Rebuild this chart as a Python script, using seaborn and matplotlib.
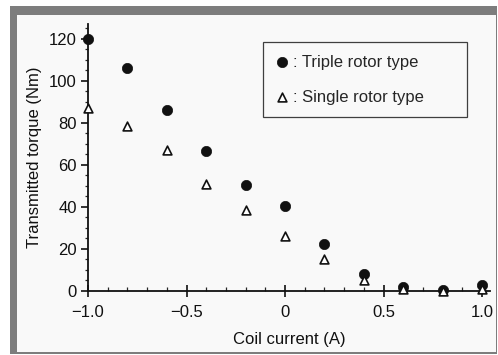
import matplotlib
matplotlib.use('Agg')
import matplotlib.pyplot as plt
import matplotlib.patches as mpatches
from matplotlib.ticker import MultipleLocator
import pandas as pd
import seaborn as sns

# Data ------------------------------------------------------------------------
coil_current = [-1.0, -0.8, -0.6, -0.4, -0.2, 0.0, 0.2, 0.4, 0.6, 0.8, 1.0]
triple_torque = [120, 106, 86, 66.5, 50.5, 40.5, 22.5, 8.3, 2.0, 0.5, 2.7]
single_torque = [87, 78.5, 67, 51, 38.5, 26, 15, 5.3, 0.8, 0.2, 1.0]

triple_label = ': Triple rotor type'
single_label = ': Single rotor type'

df = pd.DataFrame({'current': coil_current,
                   'triple': triple_torque,
                   'single': single_torque})

sns.set_style('ticks')
plt.rcParams['font.family'] = ['Liberation Sans', 'DejaVu Sans']

ink = '#111111'

fig = plt.figure(figsize=(4.98, 3.55), dpi=100)
fig.patch.set_facecolor('white')

W, H = 498.0, 355.0
# gray scan frame (behind the axes)
fig.add_artist(mpatches.Rectangle((10 / W, 1 - 354 / H), 487 / W, 348 / H,
                                  transform=fig.transFigure, facecolor='#7d7d7d',
                                  edgecolor='none', zorder=-10))
fig.add_artist(mpatches.Rectangle((17 / W, 1 - 352 / H), 479 / W, 337 / H,
                                  transform=fig.transFigure, facecolor='#f9f9f9',
                                  edgecolor='none', zorder=-9))

ax = fig.add_axes([88 / W, 1 - 291 / H, 402 / W, 267 / H])
ax.set_facecolor('none')
ax.set_zorder(1)

sns.scatterplot(data=df, x='current', y='triple', ax=ax, marker='o', s=55,
                color=ink, edgecolor=ink, linewidth=0.5,
                label=triple_label, clip_on=False, zorder=3)
sns.scatterplot(data=df, x='current', y='single', ax=ax, marker='^', s=40,
                facecolor='white', edgecolor=ink, linewidth=1.2,
                label=single_label, clip_on=False, zorder=4)

ax.set_xlim(-1.0, 1.04)
ax.set_ylim(0, 127)
ax.set_xticks([-1.0, -0.5, 0, 0.5, 1.0])
ax.set_xticklabels(['\u22121.0', '\u22120.5', '0', '0.5', '1.0'])
ax.set_yticks([0, 20, 40, 60, 80, 100, 120])
ax.xaxis.set_minor_locator(MultipleLocator(0.1))
ax.yaxis.set_minor_locator(MultipleLocator(5))

for side in ['top', 'right']:
    ax.spines[side].set_visible(False)
for side in ['left', 'bottom']:
    ax.spines[side].set_linewidth(1.3)
    ax.spines[side].set_color(ink)

ax.tick_params(axis='both', which='major', length=5, width=1.2,
               labelsize=12, colors=ink, pad=3)
ax.tick_params(axis='x', which='major', direction='inout', length=8, pad=6)
ax.tick_params(axis='x', which='minor', direction='in', length=3, width=0.9)
ax.tick_params(axis='y', which='minor', direction='out', length=2.5, width=0.9)

ax.set_xlabel('Coil current (A)', fontsize=12, color=ink, labelpad=9)
ax.set_ylabel('Transmitted torque (Nm)', fontsize=12, color=ink, labelpad=5)

leg = ax.legend(loc='upper left',
                bbox_to_anchor=(175 / 402, (291 - 115) / 267, 204 / 402, 73 / 267),
                mode='expand', frameon=True, fancybox=False, edgecolor=ink,
                fontsize=12, handletextpad=0.25, handlelength=0.8,
                borderpad=0.75, labelspacing=1.2, borderaxespad=0)
leg.get_frame().set_linewidth(0.9)
leg.get_frame().set_facecolor('#f9f9f9')

fig.savefig('out.png', dpi=100, facecolor=fig.get_facecolor())
